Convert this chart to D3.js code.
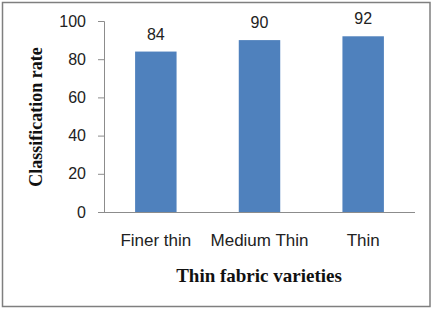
<!DOCTYPE html>
<html>
<head>
<meta charset="utf-8">
<script src="https://cdnjs.cloudflare.com/ajax/libs/d3/7.8.5/d3.min.js"></script>
<style>
  body { margin: 0; background: #fff; }
  svg { display: block; }
</style>
</head>
<body>
<div id="chart"></div>
<script>
// chart data
var categories = ['Finer thin', 'Medium Thin', 'Thin'],
    rates = [84, 90, 92],
    yTicks = [0, 20, 40, 60, 80, 100];

var W = 434, H = 310;

var svg = d3.select('#chart')
  .append('svg')
    .attr('width', W)
    .attr('height', H);

// outer frame
svg.append('rect')
  .attr('x', 2.5)
  .attr('y', 2.5)
  .attr('width', 427.5)
  .attr('height', 304)
  .style('fill', '#fff')
  .style('stroke', '#7f7f7f')
  .style('stroke-width', 1.5);

var x = d3.scaleBand()
    .domain(categories)
    .range([104, 415])
    .paddingInner(0.6)
    .paddingOuter(0.3);

var y = d3.scaleLinear()
    .domain([0, 100])
    .range([212, 21]);

var tickFont = '"Liberation Sans", Arial, sans-serif',
    titleFont = '"Liberation Serif", "DejaVu Serif", serif';

// y axis
var yAxis = svg.append('g')
  .attr('transform', 'translate(104,0)')
  .call(d3.axisLeft(y).tickValues(yTicks).tickSize(6).tickPadding(12));
yAxis.select('.domain').attr('stroke', '#8c8c8c');
yAxis.selectAll('.tick line').attr('stroke', '#8c8c8c');
yAxis.selectAll('.tick text')
  .style('font-family', tickFont)
  .style('font-size', '16px')
  .style('fill', '#222');

// x axis baseline
svg.append('line')
  .attr('x1', 98)
  .attr('x2', 415)
  .attr('y1', y(0) + 0.5)
  .attr('y2', y(0) + 0.5)
  .style('stroke', '#8c8c8c');

// bars
svg.selectAll('rect.bar')
  .data(rates)
  .enter()
    .append('rect')
      .attr('class', 'bar')
      .attr('x', function(d, i) { return x(categories[i]); })
      .attr('y', function(d) { return y(d); })
      .attr('width', x.bandwidth())
      .attr('height', function(d) { return y(0) - y(d); })
      .style('fill', '#4f81bd');

// value labels
svg.selectAll('text.val')
  .data(rates)
  .enter()
    .append('text')
      .attr('class', 'val')
      .attr('x', function(d, i) { return x(categories[i]) + x.bandwidth() / 2; })
      .attr('y', function(d) { return y(d) - 12; })
      .attr('text-anchor', 'middle')
      .style('font-family', tickFont)
      .style('font-size', '16px')
      .style('fill', '#222')
      .text(function(d) { return d; });

// category labels
svg.selectAll('text.cat')
  .data(categories)
  .enter()
    .append('text')
      .attr('class', 'cat')
      .attr('x', function(d) { return x(d) + x.bandwidth() / 2; })
      .attr('y', 246)
      .attr('text-anchor', 'middle')
      .style('font-family', tickFont)
      .style('font-size', '17px')
      .style('fill', '#222')
      .text(function(d) { return d; });

// axis titles
svg.append('text')
  .attr('x', 259)
  .attr('y', 282)
  .attr('text-anchor', 'middle')
  .style('font-family', titleFont)
  .style('font-weight', 'bold')
  .style('font-size', '19px')
  .style('fill', '#111')
  .text('Thin fabric varieties');

svg.append('text')
  .attr('transform', 'translate(42,117) rotate(-90)')
  .attr('text-anchor', 'middle')
  .style('font-family', titleFont)
  .style('font-weight', 'bold')
  .style('font-size', '18px')
  .style('fill', '#111')
  .text('Classification rate');
</script>
</body>
</html>
